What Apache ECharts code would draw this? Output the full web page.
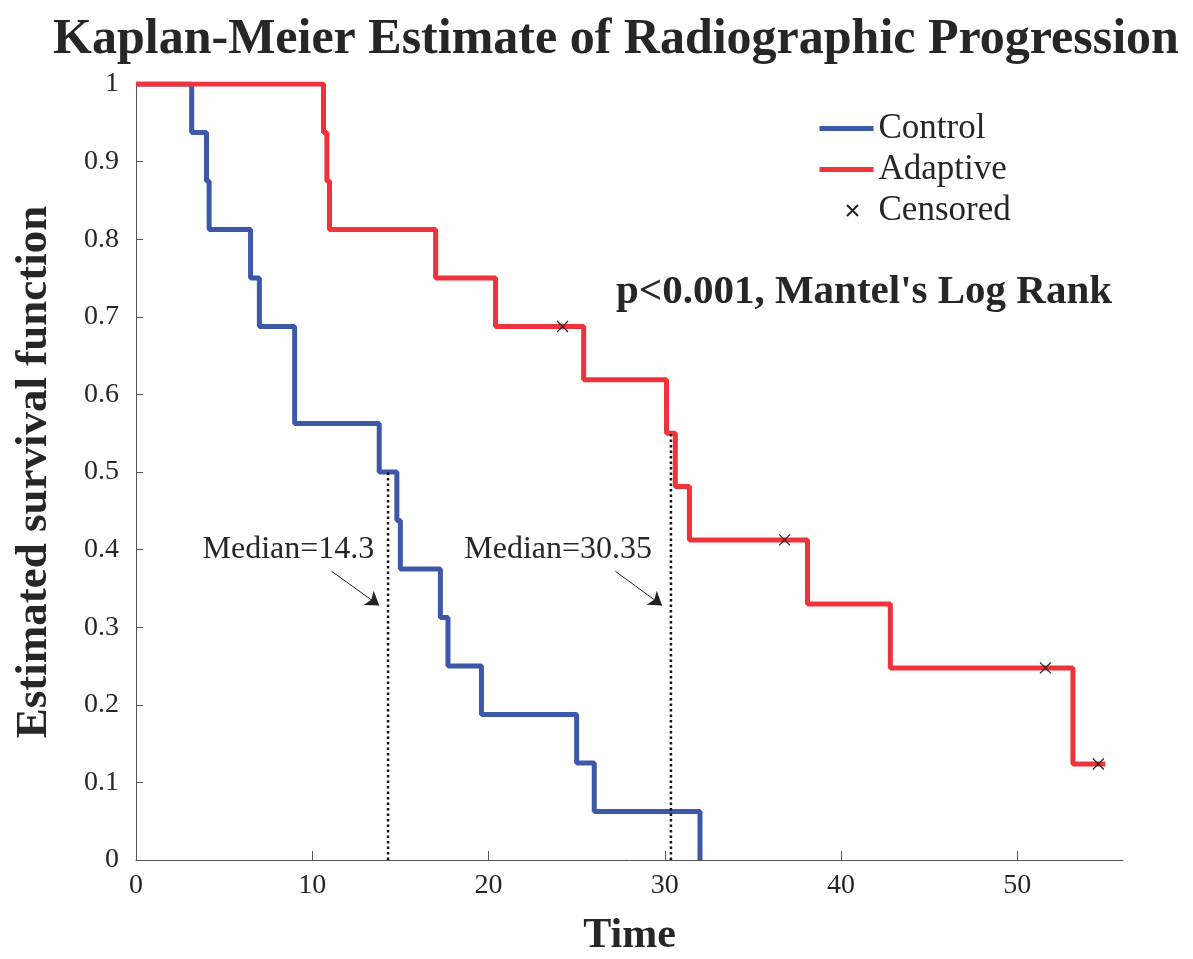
<!DOCTYPE html>
<html>
<head>
<meta charset="utf-8">
<script src="https://cdn.jsdelivr.net/npm/echarts@6/dist/echarts.min.js"></script>
<style>
  html, body { margin: 0; padding: 0; background: #fff; }
  #chart { width: 1193px; height: 959px; }
</style>
</head>
<body>
<div id="chart"></div>
<script>
// Kaplan-Meier steps: [time, survival after the event]
const controlSteps = [
  [0, 1], [3.16, 0.9375], [4.0, 0.875], [4.15, 0.8125], [6.5, 0.75],
  [7.0, 0.6875], [9.0, 0.5625], [13.8, 0.5], [14.8, 0.4375], [15.0, 0.375],
  [17.27, 0.3125], [17.7, 0.25], [19.6, 0.1875], [25.0, 0.125], [26.0, 0.0625],
  [32.0, 0]
]
const adaptiveSteps = [
  [0, 1], [10.64, 0.9375], [10.83, 0.875], [10.98, 0.8125], [17.0, 0.75],
  [20.4, 0.6875], [25.4, 0.61875], [30.1, 0.55], [30.6, 0.48125], [31.4, 0.4125],
  [38.1, 0.33], [42.8, 0.2475], [53.16, 0.12375], [55.0, 0.12375]
]
const censored = [[24.2, 0.6875], [36.8, 0.4125], [51.6, 0.2475], [54.6, 0.12375]]

// medians: [time, survival reached at that time]
const controlMedian = [14.3, 0.5]
const adaptiveMedian = [30.35, 0.55]

// annotation text anchors and arrows in data units
const medianLabels = [
  { text: 'Median=14.3', at: [8.65, 0.40] },
  { text: 'Median=30.35', at: [23.95, 0.40] }
]
const medianArrows = [
  [[11.1, 0.372], [13.8, 0.328]],
  [[27.2, 0.372], [29.85, 0.328]]
]

const xTicks = [0, 10, 20, 30, 40, 50]
const yMax = 1
const xMax = 56

const FONT = "'Liberation Serif', 'Times New Roman', serif"
const TEXT = '#262626'
const BLUE = '#3e58a8'
const RED = '#ee333a'
const CROSS = 'path://M0,0L10,10M10,0L0,10'
// legend icons share a 54x12 box so nothing gets stretched
const LEG_LINE = 'path://M0,0M54,12M0,3.5H54V8.5H0Z'
const LEG_CROSS = 'path://M0,0M54,12M27.5,0.5L38.5,11.5M38.5,0.5L27.5,11.5'

const chart = echarts.init(document.getElementById('chart'))

const option = {
  animation: false,
  backgroundColor: '#fff',
  title: [
    {
      text: 'Kaplan-Meier Estimate of Radiographic Progression',
      left: 611, top: 10, textAlign: 'center',
      textStyle: { fontFamily: FONT, fontWeight: 'bold', fontSize: 50, color: TEXT }
    },
    {
      text: "p<0.001, Mantel's Log Rank",
      left: 611, top: 267,
      textStyle: { fontFamily: FONT, fontWeight: 'bold', fontSize: 41, color: TEXT }
    }
  ],
  legend: {
    orient: 'vertical',
    left: 812, top: 106,
    itemWidth: 54, itemHeight: 12, itemGap: 6,
    textStyle: { fontFamily: FONT, fontSize: 35, color: TEXT },
    data: [
      { name: 'Control', icon: LEG_LINE },
      { name: 'Adaptive', icon: LEG_LINE },
      { name: 'Censored', icon: LEG_CROSS }
    ]
  },
  grid: { left: 136, right: 70, top: 84, bottom: 99, outerBoundsMode: 'none', containLabel: false },
  xAxis: {
    type: 'value', min: 0, max: xMax, interval: 10,
    name: 'Time', nameLocation: 'middle', nameGap: 55,
    nameTextStyle: { fontFamily: FONT, fontWeight: 'bold', fontSize: 42, color: TEXT },
    axisLine: { show: true, lineStyle: { color: '#555', width: 1 } },
    axisTick: { show: true, inside: true, length: 9, lineStyle: { color: '#555' } },
    axisLabel: {
      showMaxLabel: false, margin: 12,
      fontFamily: FONT, fontSize: 28, color: TEXT,
      formatter: (v) => xTicks.includes(v) ? String(v) : ''
    },
    splitLine: { show: false }
  },
  yAxis: {
    type: 'value', min: 0, max: yMax, interval: 0.1,
    name: 'Estimated survival function', nameLocation: 'middle', nameGap: 79,
    nameTextStyle: { fontFamily: FONT, fontWeight: 'bold', fontSize: 45, color: TEXT },
    axisLine: { show: true, lineStyle: { color: '#555', width: 1 } },
    axisTick: { show: true, inside: true, length: 7, lineStyle: { color: '#555' } },
    axisLabel: { margin: 17, fontFamily: FONT, fontSize: 28, color: TEXT },
    splitLine: { show: false }
  },
  series: [
    {
      name: 'Control', type: 'line', step: 'end', symbol: 'none',
      data: controlSteps, z: 3,
      lineStyle: { color: BLUE, width: 5 }, itemStyle: { color: BLUE }
    },
    {
      name: 'Adaptive', type: 'line', step: 'end', symbol: 'none',
      data: adaptiveSteps, z: 3,
      lineStyle: { color: RED, width: 5 }, itemStyle: { color: RED }
    },
    {
      name: 'Censored', type: 'scatter', symbol: CROSS, symbolSize: 11,
      data: censored, z: 5,
      itemStyle: { color: 'none', borderColor: '#222', borderWidth: 1.2, opacity: 1 }
    },
    {
      name: 'median-control', type: 'line', symbol: 'none', z: 4,
      data: [[controlMedian[0], 0], controlMedian],
      lineStyle: { color: '#111', width: 2.5, type: [2.5, 3] }
    },
    {
      name: 'median-adaptive', type: 'line', symbol: 'none', z: 4,
      data: [[adaptiveMedian[0], 0], adaptiveMedian],
      lineStyle: { color: '#111', width: 2.5, type: [2.5, 3] }
    },
    {
      name: 'median-arrows', type: 'lines', coordinateSystem: 'cartesian2d',
      symbol: ['none', 'arrow'], symbolSize: 13,
      data: medianArrows.map((c) => ({ coords: c })),
      lineStyle: { color: '#222', width: 1, opacity: 1 }
    },
    {
      name: 'median-labels', type: 'scatter', symbolSize: 0,
      data: medianLabels.map((d) => ({ value: d.at, name: d.text })),
      itemStyle: { opacity: 1 },
      label: {
        show: true, position: 'inside', formatter: (p) => p.name,
        fontFamily: FONT, fontSize: 32, color: TEXT, opacity: 1
      }
    }
  ]
}

chart.setOption(option)
</script>
</body>
</html>
